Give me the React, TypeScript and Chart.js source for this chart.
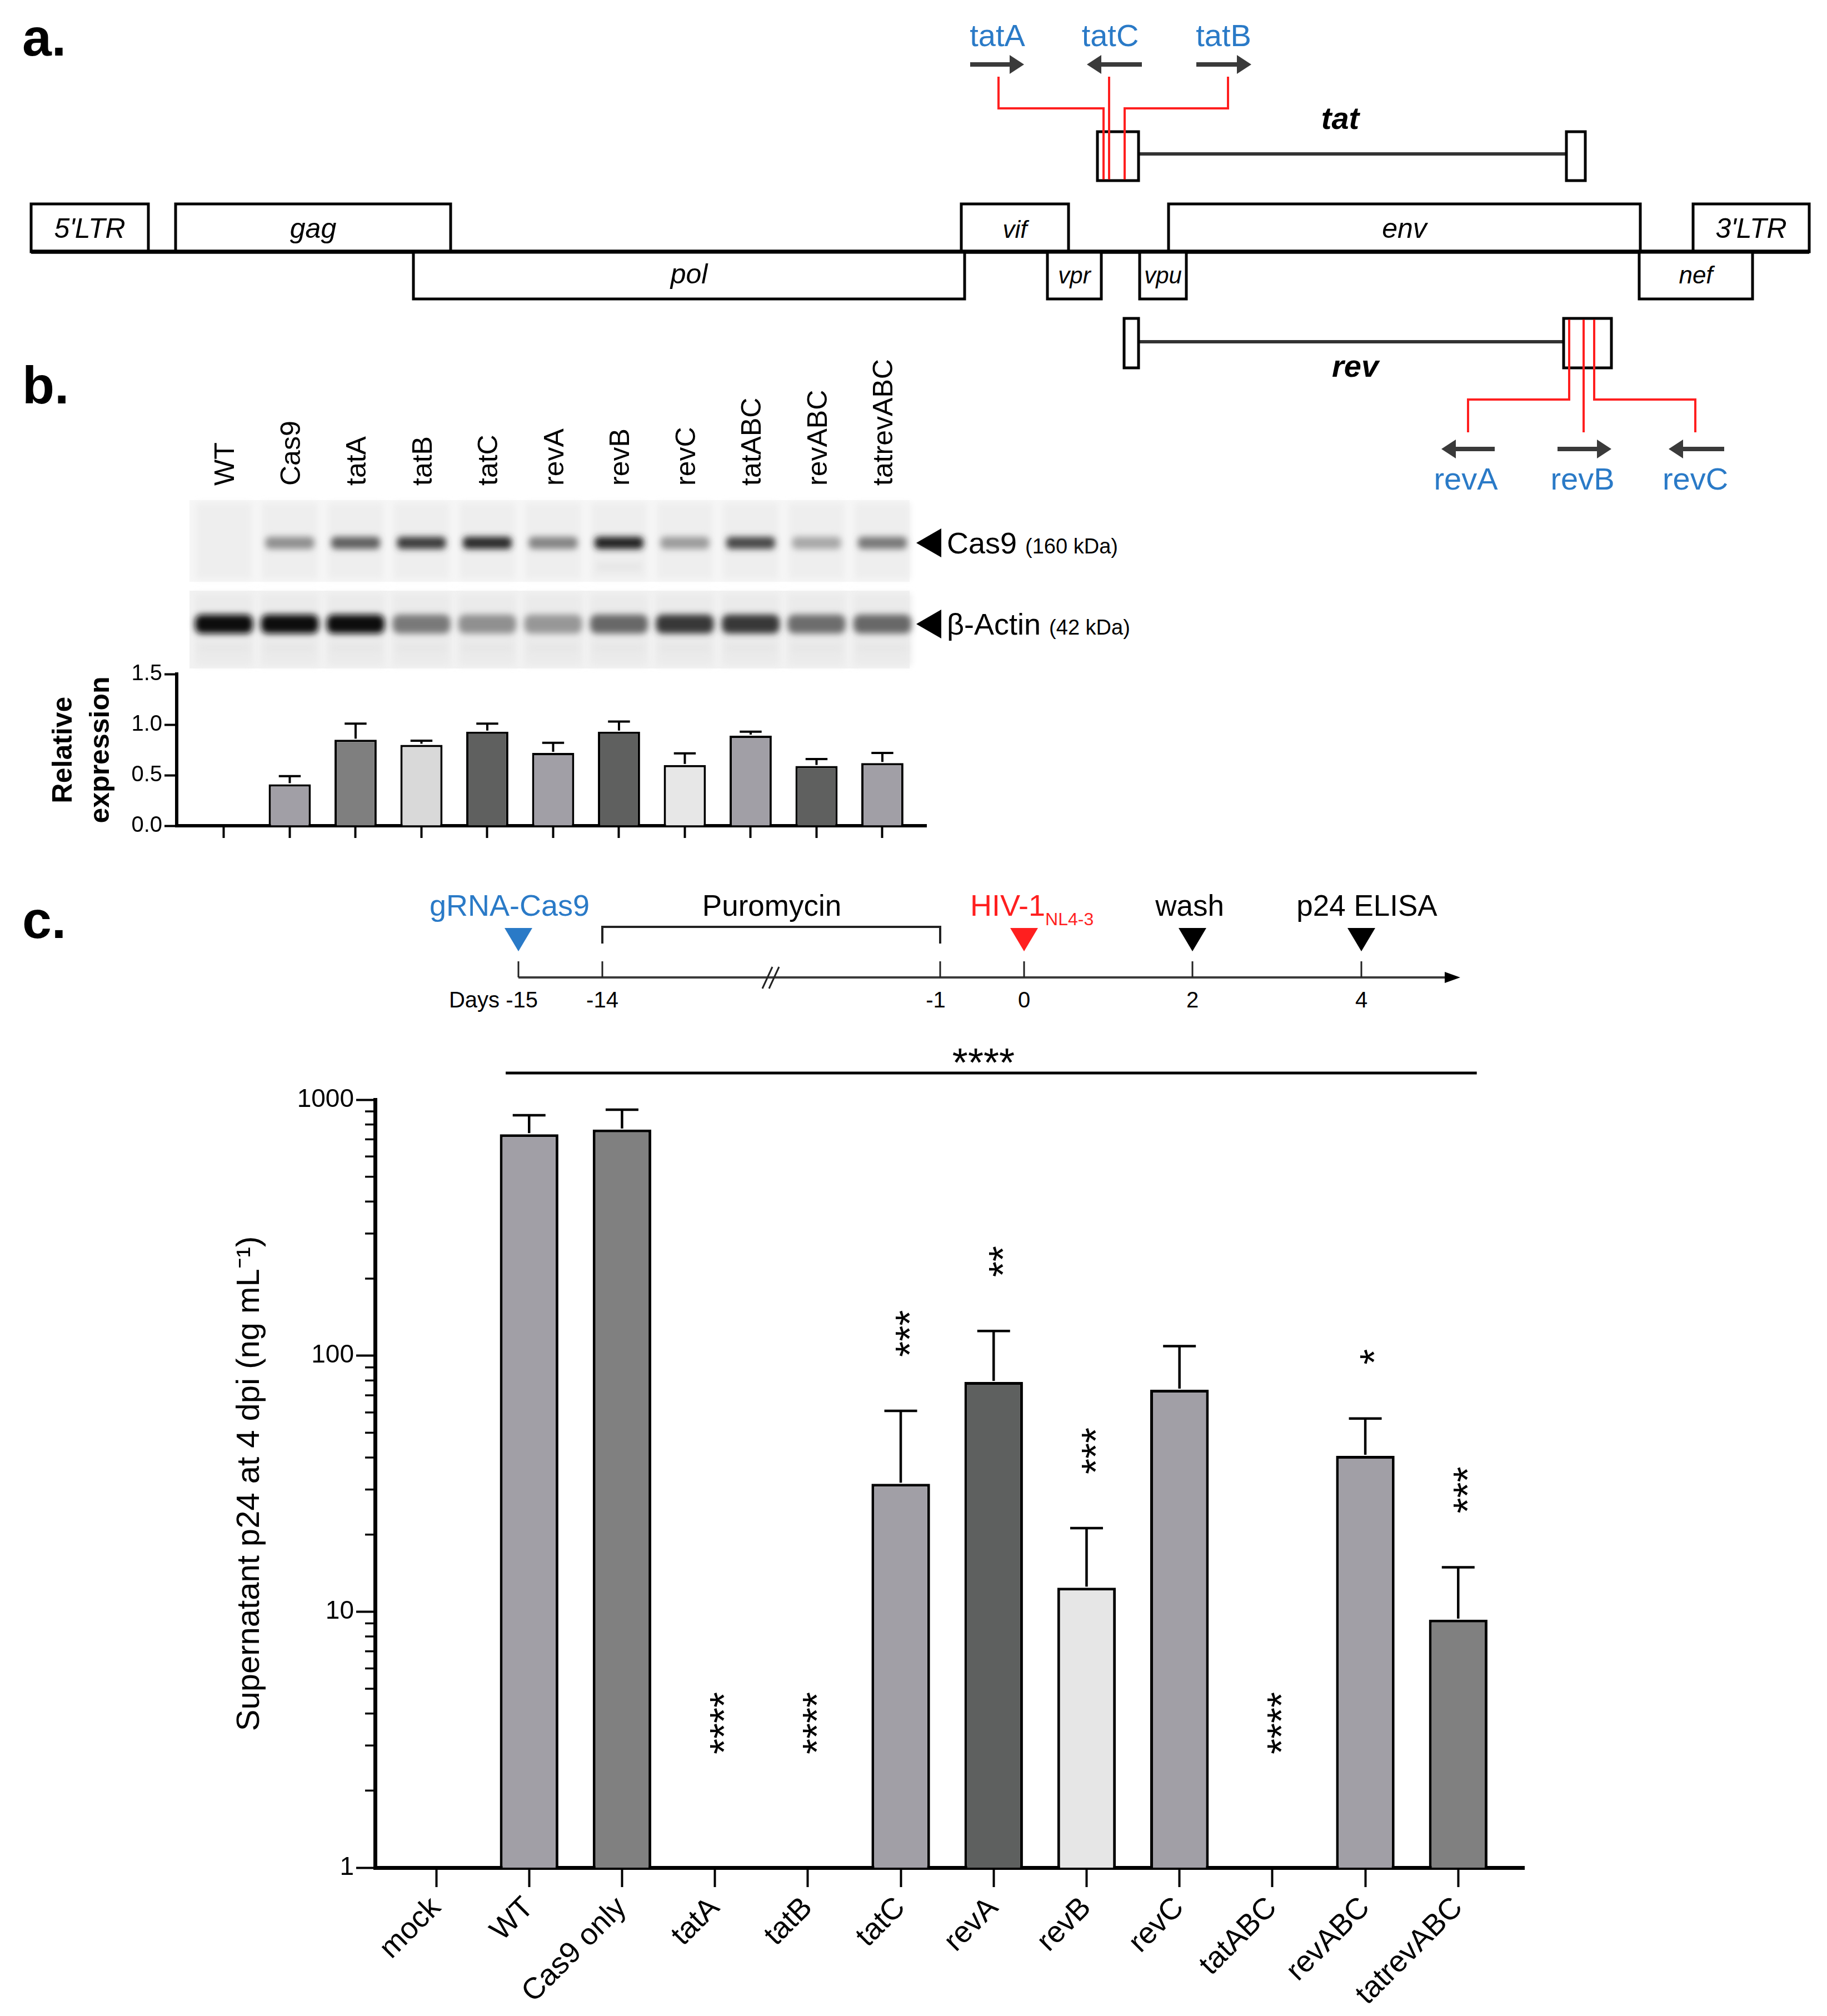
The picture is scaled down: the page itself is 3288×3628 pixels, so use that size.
import React, { useEffect, useRef } from "react";
import { Chart, registerables } from "chart.js";
Chart.register(...registerables);

const FONT = '"Liberation Sans", Arial, Helvetica, sans-serif';

// ---------------- Panel b data ----------------
const blotLanes = ["WT", "Cas9", "tatA", "tatB", "tatC", "revA", "revB", "revC", "tatABC", "revABC", "tatrevABC"];
const relExpression = [null, 0.41, 0.85, 0.8, 0.93, 0.72, 0.93, 0.6, 0.89, 0.59, 0.62];
const relExpressionErr = [null, 0.08, 0.16, 0.04, 0.08, 0.1, 0.1, 0.115, 0.04, 0.07, 0.1];
const relColors = ["#a19fa6", "#a19fa6", "#7f7f7f", "#d9d9d9", "#5f605f", "#a19fa6", "#5f605f", "#e7e7e7", "#a19fa6", "#5f605f", "#a19fa6"];
const relYTicks = [0, 0.5, 1.0, 1.5];
const cas9BandIntensity = [0, 0.45, 0.65, 0.8, 0.88, 0.5, 0.92, 0.4, 0.75, 0.35, 0.55];
const actinBandIntensity = [1, 1, 1, 0.55, 0.45, 0.42, 0.62, 0.82, 0.82, 0.6, 0.62];

// ---------------- Panel c data ----------------
const p24Categories = ["mock", "WT", "Cas9 only", "tatA", "tatB", "tatC", "revA", "revB", "revC", "tatABC", "revABC", "tatrevABC"];
const p24Values = [null, 733, 764, null, null, 31.6, 78.9, 12.4, 73.6, null, 40.6, 9.3];
const p24Err = [null, 136, 150, null, null, 29.3, 46, 8.8, 35.4, null, 16.2, 5.6];
const p24Colors = ["#a19fa6", "#a19fa6", "#808080", "#a19fa6", "#a19fa6", "#a19fa6", "#5e605f", "#e6e6e6", "#a19fa6", "#a19fa6", "#a19fa6", "#808080"];
const p24Stars = ["", "", "", "****", "****", "***", "**", "***", "", "****", "*", "***"];
const p24OverallStars = "****";
const p24MajorTicks = [1, 10, 100, 1000];
const p24MinorTicks = [2, 3, 4, 5, 6, 7, 8, 9, 20, 30, 40, 50, 60, 70, 80, 90, 200, 300, 400, 500, 600, 700, 800, 900];

// ---------------- Panel a layout ----------------
const upperGenes = [
  { name: "5'LTR", x0: 56, x1: 267, fs: 50 },
  { name: "gag", x0: 316, x1: 811, fs: 50 },
  { name: "vif", x0: 1730, x1: 1923, fs: 44 },
  { name: "env", x0: 2103, x1: 2952, fs: 50 },
  { name: "3'LTR", x0: 3047, x1: 3256, fs: 50 },
];
const lowerGenes = [
  { name: "pol", x0: 744, x1: 1736, fs: 50 },
  { name: "vpr", x0: 1885, x1: 1982, fs: 42 },
  { name: "vpu", x0: 2051, x1: 2135, fs: 42 },
  { name: "nef", x0: 2950, x1: 3154, fs: 44 },
];

const BLUE = "#2a7ac7";
const RED = "#ff1f1f";

function errorBarPlugin(values: (number | null)[], errs: (number | null)[], lw: number, capRatio: number) {
  return {
    id: "errbars",
    afterDatasetsDraw(chart: any) {
      const ctx = chart.ctx;
      const meta = chart.getDatasetMeta(0);
      const ys = chart.scales.y;
      ctx.save();
      ctx.strokeStyle = "#000";
      ctx.lineWidth = lw;
      values.forEach((v, i) => {
        const e = errs[i];
        if (v == null || e == null) return;
        const el = meta.data[i];
        const x = el.x;
        const half = (el.width * capRatio) / 2;
        const yTop = ys.getPixelForValue(v) - 2;
        const yErr = ys.getPixelForValue(v + e);
        ctx.beginPath();
        ctx.moveTo(x, yTop);
        ctx.lineTo(x, yErr);
        ctx.stroke();
        ctx.beginPath();
        ctx.moveTo(x - half, yErr);
        ctx.lineTo(x + half, yErr);
        ctx.stroke();
      });
      ctx.restore();
    },
  };
}

const minorTickPlugin = {
  id: "minorTicks",
  afterDraw(chart: any) {
    const ctx = chart.ctx;
    const ys = chart.scales.y;
    const left = chart.chartArea.left;
    ctx.save();
    ctx.strokeStyle = "#000";
    ctx.lineWidth = 3.5;
    p24MinorTicks.forEach((v) => {
      const py = ys.getPixelForValue(v);
      ctx.beginPath();
      ctx.moveTo(left - 18, py);
      ctx.lineTo(left, py);
      ctx.stroke();
    });
    ctx.restore();
  },
};

const starsPlugin = {
  id: "stars",
  afterDraw(chart: any) {
    const ctx = chart.ctx;
    const xs = chart.scales.x;
    const ys = chart.scales.y;
    const fs = 72;
    ctx.save();
    ctx.fillStyle = "#000";
    ctx.font = `${fs}px ${FONT}`;
    ctx.textAlign = "left";
    ctx.textBaseline = "alphabetic";
    p24Stars.forEach((s, i) => {
      if (!s) return;
      const x = xs.getPixelForValue(i);
      const v = p24Values[i];
      const e = p24Err[i];
      let start: number;
      if (v == null) start = ys.getPixelForValue(1) - 204;
      else start = ys.getPixelForValue(v + (e || 0)) - 97;
      ctx.save();
      ctx.translate(x + 0.575 * fs, start);
      ctx.rotate(-Math.PI / 2);
      ctx.fillText(s, 0, 0);
      ctx.restore();
    });
    // overall comparison line
    const top = chart.chartArea.top;
    const xl = xs.getPixelForValue(0.748);
    const xr = xs.getPixelForValue(11.2);
    ctx.strokeStyle = "#000";
    ctx.lineWidth = 5;
    ctx.beginPath();
    ctx.moveTo(xl, top - 48);
    ctx.lineTo(xr, top - 48);
    ctx.stroke();
    ctx.textAlign = "center";
    ctx.fillText(p24OverallStars, (xl + xr) / 2 - 14, top - 83 + 0.575 * fs);
    ctx.restore();
  },
};

export default function App() {
  const refB = useRef<HTMLCanvasElement>(null);
  const refC = useRef<HTMLCanvasElement>(null);

  useEffect(() => {
    document.body.style.margin = "0";
    document.body.style.background = "#fff";

    // ---------- Panel b chart ----------
    const chartB = new Chart(refB.current!, {
      type: "bar",
      data: {
        datasets: [
          {
            data: blotLanes.map((_, i) => ({ x: i, y: relExpression[i] })) as any,
            backgroundColor: relColors,
            borderColor: "#000",
            borderWidth: 4,
            categoryPercentage: 1,
            barPercentage: 0.64,
          },
        ],
      },
      options: {
        animation: false,
        responsive: false,
        maintainAspectRatio: false,
        layout: { padding: { top: 63, right: 53, left: 0, bottom: 0 } },
        plugins: { legend: { display: false }, tooltip: { enabled: false } },
        scales: {
          x: {
            type: "linear",
            offset: false,
            min: -0.717,
            max: 10.667,
            afterBuildTicks: (ax: any) => {
              ax.ticks = blotLanes.map((_, i) => ({ value: i }));
            },
            ticks: { display: false },
            grid: { offset: false, drawOnChartArea: false, drawTicks: true, tickLength: 22, tickWidth: 4, tickColor: "#000" },
            border: { display: true, width: 6, color: "#000" },
            afterFit: (s: any) => {
              s.height = 84;
            },
          },
          y: {
            type: "linear",
            min: 0,
            max: 1.5,
            afterBuildTicks: (ax: any) => {
              ax.ticks = relYTicks.map((v) => ({ value: v }));
            },
            ticks: {
              callback: (v: any) => Number(v).toFixed(1),
              font: { family: FONT, size: 40 },
              color: "#000",
              padding: 4,
            },
            grid: { drawOnChartArea: false, drawTicks: true, tickLength: 22, tickWidth: 4, tickColor: "#000" },
            border: { display: true, width: 6, color: "#000" },
            title: {
              display: true,
              text: ["Relative", "expression"],
              font: { family: FONT, size: 50, weight: "bold", lineHeight: 1.35 },
              color: "#000",
              padding: { top: 81, bottom: 0 },
            },
            afterFit: (s: any) => {
              s.width = 318;
            },
          },
        },
      } as any,
      plugins: [errorBarPlugin(relExpression, relExpressionErr, 4, 0.52)],
    });

    // ---------- Panel c chart ----------
    const chartC = new Chart(refC.current!, {
      type: "bar",
      data: {
        datasets: [
          {
            data: p24Categories.map((_, i) => ({ x: i, y: p24Values[i] })) as any,
            backgroundColor: p24Colors,
            borderColor: "#000",
            borderWidth: 5,
            categoryPercentage: 1,
            barPercentage: 0.63,
          },
        ],
      },
      options: {
        animation: false,
        responsive: false,
        maintainAspectRatio: false,
        layout: { padding: { top: 219, right: 57, left: 0, bottom: 0 } },
        plugins: { legend: { display: false }, tooltip: { enabled: false } },
        scales: {
          x: {
            type: "linear",
            offset: false,
            min: -0.658,
            max: 11.71,
            afterBuildTicks: (ax: any) => {
              ax.ticks = p24Categories.map((_, i) => ({ value: i }));
            },
            ticks: {
              callback: (v: any) => p24Categories[v],
              autoSkip: false,
              maxRotation: 45,
              minRotation: 45,
              font: { family: FONT, size: 54 },
              color: "#000",
              padding: 6,
            },
            grid: { offset: false, drawOnChartArea: false, drawTicks: true, tickLength: 35, tickWidth: 4, tickColor: "#000" },
            border: { display: true, width: 7, color: "#000" },
            afterFit: (s: any) => {
              s.height = 267;
            },
          },
          y: {
            type: "logarithmic",
            min: 1,
            max: 1000,
            afterBuildTicks: (ax: any) => {
              ax.ticks = p24MajorTicks.map((v) => ({ value: v, major: true }));
            },
            ticks: {
              callback: (v: any) => String(v),
              font: { family: FONT, size: 46 },
              color: "#000",
              padding: 4,
            },
            grid: { drawOnChartArea: false, drawTicks: true, tickLength: 34, tickWidth: 4, tickColor: "#000" },
            border: { display: true, width: 7, color: "#000" },
            title: {
              display: true,
              text: "Supernatant p24 at 4 dpi (ng mL\u207B\u00B9)",
              font: { family: FONT, size: 58 },
              color: "#000",
              padding: { top: 415, bottom: 0 },
            },
            afterFit: (s: any) => {
              s.width = 675;
            },
          },
        },
      } as any,
      plugins: [errorBarPlugin(p24Values, p24Err, 4.5, 0.56), minorTickPlugin, starsPlugin],
    });

    return () => {
      chartB.destroy();
      chartC.destroy();
    };
  }, []);

  const laneX = (i: number) => 403 + 118.5 * i;

  const arrow = (x1: number, x2: number, y: number, dir: "l" | "r", key: string) => {
    const head = 26;
    if (dir === "r") {
      return (
        <g key={key}>
          <line x1={x1} y1={y} x2={x2 - head + 2} y2={y} stroke="#3a3a3a" strokeWidth={8} />
          <polygon points={`${x2 - head},${y - 17} ${x2},${y} ${x2 - head},${y + 17}`} fill="#3a3a3a" />
        </g>
      );
    }
    return (
      <g key={key}>
        <line x1={x1 + head - 2} y1={y} x2={x2} y2={y} stroke="#3a3a3a" strokeWidth={8} />
        <polygon points={`${x1 + head},${y - 17} ${x1},${y} ${x1 + head},${y + 17}`} fill="#3a3a3a" />
      </g>
    );
  };

  const gray = (d: number) => {
    const g = Math.round(250 - 235 * d);
    return `rgb(${g},${g},${g})`;
  };

  return (
    <div style={{ position: "absolute", left: 0, top: 0, width: 3288, height: 3628, background: "#fff", fontFamily: FONT }}>
      <svg width={3288} height={3628} style={{ position: "absolute", left: 0, top: 0 }} fontFamily={FONT}>
        <defs>
          <filter id="blurBand" x="-30%" y="-100%" width="160%" height="300%">
            <feGaussianBlur stdDeviation="6" />
          </filter>
          <filter id="blurLane" x="-10%" y="-10%" width="120%" height="120%">
            <feGaussianBlur stdDeviation="6" />
          </filter>
        </defs>

        {/* ---------------- Panel a ---------------- */}
        <text x={40} y={100} fontSize={95} fontWeight="bold">a.</text>

        {/* tat */}
        <line x1={2049} y1={277} x2={2819} y2={277} stroke="#333" strokeWidth={6} />
        <rect x={1975} y={237} width={74} height={88} fill="#fff" stroke="#000" strokeWidth={5} />
        <rect x={2819} y={237} width={34} height={88} fill="#fff" stroke="#000" strokeWidth={5} />
        <text x={2412} y={232} fontSize={56} fontWeight="bold" fontStyle="italic" textAnchor="middle">tat</text>
        <path d="M1797,138 V195 H1986 V323" fill="none" stroke={RED} strokeWidth={4} />
        <path d="M1996,138 V323" fill="none" stroke={RED} strokeWidth={4} />
        <path d="M2210,138 V195 H2024 V323" fill="none" stroke={RED} strokeWidth={4} />
        {arrow(1746, 1843, 116, "r", "tA")}
        {arrow(1956, 2055, 116, "l", "tC")}
        {arrow(2153, 2252, 116, "r", "tB")}
        <text x={1795} y={83} fontSize={56} fill={BLUE} textAnchor="middle">tatA</text>
        <text x={1998} y={83} fontSize={56} fill={BLUE} textAnchor="middle">tatC</text>
        <text x={2202} y={83} fontSize={56} fill={BLUE} textAnchor="middle">tatB</text>

        {/* genome */}
        {upperGenes.map((g) => (
          <g key={g.name}>
            <rect x={g.x0} y={367} width={g.x1 - g.x0} height={86} fill="#fff" stroke="#000" strokeWidth={5} />
            <text x={(g.x0 + g.x1) / 2} y={428} fontSize={g.fs} fontStyle="italic" textAnchor="middle">{g.name}</text>
          </g>
        ))}
        <line x1={56} y1={453} x2={3256} y2={453} stroke="#000" strokeWidth={7} />
        {lowerGenes.map((g) => (
          <g key={g.name}>
            <rect x={g.x0} y={453} width={g.x1 - g.x0} height={85} fill="#fff" stroke="#000" strokeWidth={5} />
            <text x={(g.x0 + g.x1) / 2} y={510} fontSize={g.fs} fontStyle="italic" textAnchor="middle">{g.name}</text>
          </g>
        ))}
        <line x1={56} y1={453} x2={3256} y2={453} stroke="#000" strokeWidth={7} />

        {/* rev */}
        <line x1={2049} y1={615} x2={2814} y2={615} stroke="#333" strokeWidth={6} />
        <rect x={2023} y={573} width={26} height={89} fill="#fff" stroke="#000" strokeWidth={5} />
        <rect x={2814} y={573} width={86} height={89} fill="#fff" stroke="#000" strokeWidth={5} />
        <text x={2439} y={678} fontSize={56} fontWeight="bold" fontStyle="italic" textAnchor="middle">rev</text>
        <path d="M2642,778 V719 H2824 V575" fill="none" stroke={RED} strokeWidth={4} />
        <path d="M2850,778 V575" fill="none" stroke={RED} strokeWidth={4} />
        <path d="M3051,778 V719 H2869 V575" fill="none" stroke={RED} strokeWidth={4} />
        {arrow(2594, 2690, 808, "l", "rA")}
        {arrow(2803, 2900, 808, "r", "rB")}
        {arrow(3003, 3103, 808, "l", "rC")}
        <text x={2638} y={881} fontSize={56} fill={BLUE} textAnchor="middle">revA</text>
        <text x={2848} y={881} fontSize={56} fill={BLUE} textAnchor="middle">revB</text>
        <text x={3051} y={881} fontSize={56} fill={BLUE} textAnchor="middle">revC</text>

        {/* ---------------- Panel b ---------------- */}
        <text x={40} y={726} fontSize={95} fontWeight="bold">b.</text>
        {blotLanes.map((l, i) => (
          <text key={l} transform={`translate(${laneX(i) + 18},874) rotate(-90)`} fontSize={50}>{l}</text>
        ))}

        {/* Cas9 blot */}
        <rect x={341} y={900} width={1296} height={147} fill="#f6f6f6" />
        {blotLanes.map((l, i) => (
          <rect key={"lc" + l} x={laneX(i) - 50} y={905} width={100} height={137} fill="#eeeeee" filter="url(#blurLane)" />
        ))}
        {blotLanes.map((l, i) =>
          cas9BandIntensity[i] > 0 ? (
            <rect key={"bc" + l} x={laneX(i) - 44} y={966} width={88} height={22} rx={8} fill={gray(cas9BandIntensity[i])} filter="url(#blurBand)" />
          ) : null
        )}
        <rect x={laneX(6) - 40} y={1015} width={80} height={10} fill="#e4e4e4" filter="url(#blurBand)" />
        {/* Actin blot */}
        <rect x={341} y={1063} width={1296} height={140} fill="#f2f2f2" />
        {blotLanes.map((l, i) => (
          <rect key={"la" + l} x={laneX(i) - 52} y={1068} width={104} height={130} fill="#ebebeb" filter="url(#blurLane)" />
        ))}
        {blotLanes.map((l, i) => (
          <rect key={"ba" + l} x={laneX(i) - 52} y={1106} width={104} height={34} rx={12} fill={gray(actinBandIntensity[i])} filter="url(#blurBand)" />
        ))}
        {blotLanes.map((l, i) => (
          <rect key={"fa" + l} x={laneX(i) - 45} y={1160} width={90} height={12} fill="#e6e6e6" filter="url(#blurBand)" />
        ))}
        <polygon points="1649,977 1694,951 1694,1003" fill="#000" />
        <text x={1704} y={996} fontSize={54}>Cas9 <tspan fontSize={38}>(160 kDa)</tspan></text>
        <polygon points="1649,1123 1694,1097 1694,1149" fill="#000" />
        <text x={1704} y={1142} fontSize={54}>β-Actin <tspan fontSize={38}>(42 kDa)</tspan></text>

        {/* ---------------- Panel c timeline ---------------- */}
        <text x={40} y={1688} fontSize={95} fontWeight="bold">c.</text>
        <line x1={933} y1={1759} x2={2602} y2={1759} stroke="#3a3a3a" strokeWidth={4} />
        <polygon points="2600,1749 2628,1759 2600,1769" fill="#000" />
        {[933, 1084, 1692, 1843, 2146, 2450].map((x) => (
          <line key={"t" + x} x1={x} y1={1730} x2={x} y2={1759} stroke="#222" strokeWidth={3} />
        ))}
        <line x1={1372} y1={1779} x2={1390} y2={1740} stroke="#222" strokeWidth={3} />
        <line x1={1384} y1={1779} x2={1402} y2={1740} stroke="#222" strokeWidth={3} />
        <path d="M1084,1698 V1668 H1692 V1698" fill="none" stroke="#222" strokeWidth={4} />
        <polygon points="908,1670 958,1670 933,1712" fill={BLUE} />
        <polygon points="1818,1670 1868,1670 1843,1712" fill={RED} />
        <polygon points="2121,1670 2171,1670 2146,1712" fill="#000" />
        <polygon points="2425,1670 2475,1670 2450,1712" fill="#000" />
        <text x={917} y={1648} fontSize={54} fill={BLUE} textAnchor="middle">gRNA-Cas9</text>
        <text x={1389} y={1648} fontSize={53} textAnchor="middle">Puromycin</text>
        <text x={1746} y={1648} fontSize={54} fill={RED}>HIV-1<tspan fontSize={32} dy={17}>NL4-3</tspan></text>
        <text x={2141} y={1648} fontSize={53} textAnchor="middle">wash</text>
        <text x={2460} y={1648} fontSize={53} textAnchor="middle">p24 ELISA</text>
        <text x={968} y={1813} fontSize={40} textAnchor="end">Days -15</text>
        <text x={1084} y={1813} fontSize={40} textAnchor="middle">-14</text>
        <text x={1684} y={1813} fontSize={40} textAnchor="middle">-1</text>
        <text x={1843} y={1813} fontSize={40} textAnchor="middle">0</text>
        <text x={2146} y={1813} fontSize={40} textAnchor="middle">2</text>
        <text x={2450} y={1813} fontSize={40} textAnchor="middle">4</text>
      </svg>
      <canvas ref={refB} width={1720} height={420} style={{ position: "absolute", left: 0, top: 1150 }} />
      <canvas ref={refC} width={2800} height={1868} style={{ position: "absolute", left: 0, top: 1760 }} />
    </div>
  );
}
